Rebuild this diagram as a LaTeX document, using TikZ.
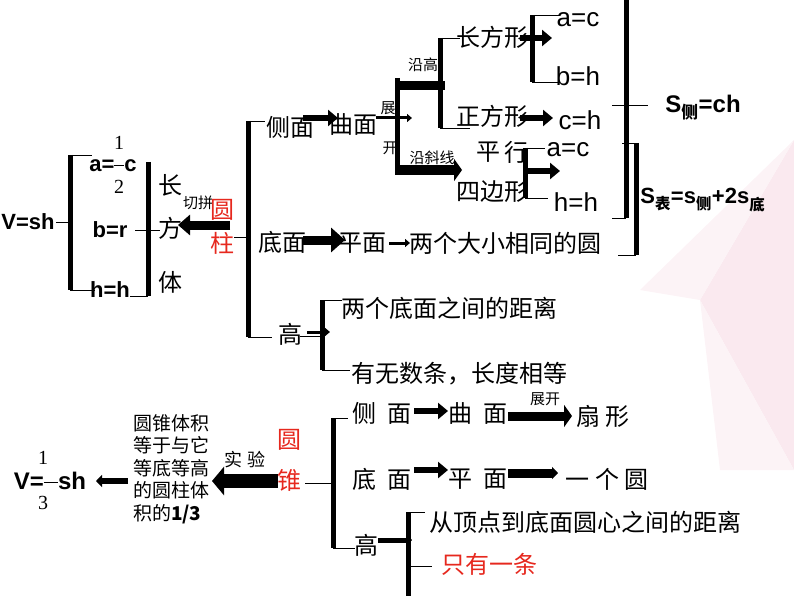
\documentclass[tikz,border=0pt]{standalone}
\usepackage{fontspec}
\setmainfont{Liberation Sans}
\newfontfamily\cjk{Noto Sans CJK SC}
\newfontfamily\serif{Liberation Serif}
\usetikzlibrary{arrows.meta,positioning}
\tikzset{every picture/.style={line width=0.75pt}}
\definecolor{redtxt}{RGB}{230,40,30}
\definecolor{pinkbg}{RGB}{246,214,226}

\begin{document}
\begin{tikzpicture}[
    x=1pt, y=-1pt,
    every node/.style={inner sep=1pt},
    zh/.style={font=\cjk\fontsize{24}{26}\selectfont},
    zhs/.style={font=\cjk\fontsize{15}{16}\selectfont},
    zhr/.style={font=\cjk\fontsize{24}{26}\selectfont, text=redtxt},
    eq/.style={font=\fontsize{26}{28}\selectfont},
    beq/.style={font=\bfseries\fontsize{22}{24}\selectfont},
    frac/.style={font=\serif\fontsize{20}{21}\selectfont},
    brace/.style={line width=5pt},
    bigarrow/.style={line width=9pt, -{Triangle[length=14pt,width=24pt]}},
    midarrow/.style={line width=6pt, -{Triangle[length=10pt,width=16pt]}},
    tinyarrow/.style={line width=3pt, -{Triangle[length=5pt,width=8pt]}},
]
    \useasboundingbox (0,0) rectangle (794,596);
    \fill[pinkbg!55] (794,140) -- (700,300) -- (794,470) -- cycle;
    \fill[pinkbg!30] (794,140) -- (640,290) -- (700,300) -- cycle;
    \fill[pinkbg!30] (700,300) -- (720,470) -- (794,470) -- cycle;

    % cylinder, left part
    \node[beq] (vsh) at (28,222) {V=sh};
    \draw[brace] (70,155) -- (70,290);
    \draw (70,155) -- (92,155) (70,290) -- (95,290) (56,222) -- (70,222);
    \node[beq] (ac) at (113,166) {a=\rule[0.3em]{10pt}{0.6pt}c};
    \node[frac] (half1) at (119,143) {1};
    \node[frac] (half2) at (119,187) {2};
    \node[beq] (br) at (110,230) {b=r};
    \node[beq] (hh) at (110,290) {h=h};
    \draw[brace] (148,162) -- (148,296);
    \draw (130,296) -- (148,296) (135,230) -- (160,230);
    \node[zh] (chang) at (170,185) {长};
    \node[zh] (fang) at (170,228) {方};
    \node[zh] (ti) at (170,282) {体};
    \node[zhs] (qiepin) at (198,203) {切拼};
    \node[zhr] (yuan) at (222,210) {圆};
    \node[zhr] (zhu) at (222,243) {柱};
    \draw[line width=9pt, -{Triangle[length=12pt,width=20pt]}] (230,225) -- (178,225);

    % cylinder, right part
    \draw (234,237) -- (248,237);
    \draw[brace] (248,121) -- (248,337);
    \draw (248,121) -- (265,121) (248,337) -- (272,337);
    \node[zh] (cemian) at (290,127) {侧面};
    \node[zh] (dimian) at (282,242) {底面};
    \node[zh] (gao) at (290,334) {高};
    \draw[midarrow] (303,118) -- (338,118);
    \node[zh] (qumian) at (353,125) {曲面};
    \node[zhs] (zhan) at (388,108) {展};
    \node[zhs] (kai) at (390,148) {开};
    \draw[tinyarrow] (376,118) -- (412,118);
    \draw[brace] (397,78) -- (397,175);
    \node[zhs] (yangao) at (423,65) {沿高};
    \draw[line width=9pt] (400,86) -- (445,86);
    \draw[brace] (440,38) -- (440,128);
    \draw (440,38) -- (460,38) (440,128) -- (470,128);
    \node[zh] (cfx) at (492,37) {长方形};
    \node[zh] (zfx) at (492,116) {正方形};
    \node[zhs] (yanxie) at (432,158) {沿斜线};
    \draw[line width=10pt, -{Triangle[length=8pt,width=22pt]}] (400,170) -- (462,170);
    \node[zh] (ping) at (488,152) {平};
    \node[zh] (xing) at (516,152) {行};
    \node[zh] (sbx) at (492,192) {四边形};

    \draw[brace] (532,15) -- (532,82);
    \draw (532,15) -- (560,15) (532,82) -- (560,82);
    \draw[midarrow] (520,38) -- (552,38);
    \node[eq] (ac2) at (578,20) {a=c};
    \node[eq] (bh) at (578,76) {b=h};
    \draw[midarrow] (520,118) -- (553,118);
    \node[eq] (ch) at (580,120) {c=h};
    \draw[brace] (525,148) -- (525,198);
    \draw (525,148) -- (545,148) (525,198) -- (548,198);
    \draw[midarrow] (528,171) -- (560,171);
    \node[eq] (ac3) at (568,150) {a=c};
    \node[eq] (hh2) at (576,202) {h=h};

    \draw[brace] (626,0) -- (626,218);
    \draw (612,105) -- (648,105) (612,218) -- (626,218);
    \draw[brace] (636,143) -- (636,255);
    \draw (622,143) -- (636,143) (618,255) -- (636,255);
    \node[font=\bfseries\fontsize{24}{26}\selectfont, anchor=west] (sce) at (664,108) {S\textsubscript{\cjk 侧}=ch};
    \node[beq, anchor=west] (sbiao) at (639,200) {S\textsubscript{\cjk 表}=s\textsubscript{\cjk 侧}+2s\textsubscript{\cjk 底}};

    \draw[bigarrow] (303,240) -- (345,240);
    \node[zh] (pingmian) at (362,243) {平面};
    \draw[tinyarrow] (389,243) -- (410,243);
    \node[zh, anchor=west] (liangge) at (408,243) {两个大小相同的圆};

    \draw[brace] (322,300) -- (322,370);
    \draw (322,300) -- (342,300) (322,370) -- (350,370) (300,336) -- (322,336);
    \draw[tinyarrow] (307,332) -- (330,332);
    \node[zh, anchor=west] (juli) at (340,308) {两个底面之间的距离};
    \node[zh, anchor=west] (wushu) at (350,374) {有无数条，长度相等};

    % cone
    \node[zhr] (yuan2) at (289,440) {圆};
    \node[zhr] (zhui) at (289,480) {锥};
    \draw (305,483) -- (333,483);
    \draw[brace] (333,418) -- (333,548);
    \draw (333,418) -- (348,418) (333,548) -- (355,548);
    \node[zh] (ce2) at (382,413) {侧\ \ 面};
    \node[zh] (di2) at (382,479) {底\ \ 面};
    \node[zh] (gao2) at (366,545) {高};
    \draw[midarrow] (414,411) -- (448,411);
    \node[zh] (qu2) at (478,413) {曲\ \ 面};
    \node[zhs] (zhankai) at (545,399) {展开};
    \draw[line width=9pt, -{Triangle[length=8pt,width=22pt]}] (508,416) -- (572,416);
    \node[zh] (shanxing) at (603,416) {扇\ 形};
    \draw[midarrow] (414,470) -- (448,470);
    \node[zh] (ping2) at (478,479) {平\ \ 面};
    \draw[line width=9pt, -{Triangle[length=6pt,width=12pt]}] (508,473) -- (558,473);
    \node[zh] (yige) at (607,479) {一\ 个\ 圆};
    \draw[line width=5pt, -{Triangle[length=6pt,width=12pt]}] (378,540) -- (412,540);
    \draw[brace] (408,512) -- (408,596);
    \draw (408,512) -- (425,512) (408,566) -- (432,566);
    \node[zh, anchor=west] (dingdian) at (428,522) {从顶点到底面圆心之间的距离};
    \node[zhr, anchor=west] (zhiyou) at (440,564) {只有一条};

    \draw[line width=14pt, -{Triangle[length=12pt,width=28pt]}] (278,481) -- (212,481);
    \node[font=\cjk\fontsize{18}{19}\selectfont] (shiyan) at (245,460) {实\ 验};
    \node[font=\cjk\fontsize{19}{22.5}\selectfont, align=left] (tiji) at (171,469)
        {圆锥体积\\等于与它\\等底等高\\的圆柱体\\积的\textbf{1/3}};
    \draw[line width=6pt, -{Triangle[length=6pt,width=12pt]}] (128,481) -- (96,481);
    \node[font=\bfseries\fontsize{24}{26}\selectfont] (vthird) at (50,481) {V=\rule[0.3em]{14pt}{0.6pt}sh};
    \node[frac] (third1) at (43,458) {1};
    \node[frac] (third3) at (43,503) {3};
\end{tikzpicture}
\end{document}
